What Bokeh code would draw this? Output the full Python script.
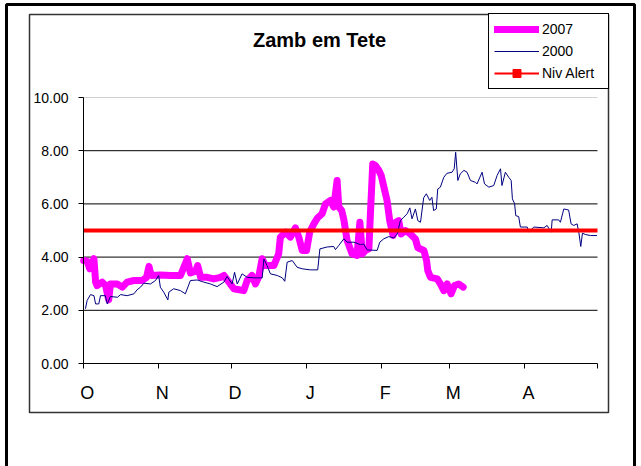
import numpy as np
from bokeh.plotting import figure
from bokeh.models import (Range1d, FixedTicker, Legend, LegendItem, Label,
                          BoxAnnotation, PrintfTickFormatter)
from bokeh.embed import file_html
from bokeh.resources import INLINE

# ---------------- data ----------------
TITLE = "Zamb em Tete"
month_labels = ["O", "N", "D", "J", "F", "M", "A"]
month_start_days = [0, 31, 61, 92, 123, 151, 182, 212]   # days since 1 Oct
y_ticks = [0, 2, 4, 6, 8, 10]
alert_level = 5.0
alert_days = [0, 212]

day_2007 = [0.1, 1.5, 2.6, 4.3, 5.0, 5.6, 7.7, 9.1, 10.4, 11.1,
            13.9, 16.0, 18.0, 20.8, 24.2, 26.0, 27.0, 27.9, 31.7, 35.9,
            40.0, 42.8, 44.1, 46.2, 47.1, 48.3, 51.0, 53.7, 56.5, 57.9,
            60.0, 62.0, 66.1, 67.5, 69.5, 70.9, 72.3, 73.7, 75.0, 78.5,
            80.5, 81.2, 83.3, 85.3, 87.4, 88.8, 90.2, 92.0, 93.3, 95.0,
            96.6, 98.4, 99.8, 101.9, 103.2, 104.6, 105.3, 106.5, 107.4, 108.7,
            110.8, 112.8, 114.0, 115.0, 116.3, 117.7, 118.4, 119.3, 120.4, 121.8,
            122.8, 123.9, 125.2, 126.3, 127.7, 128.7, 130.0, 131.0, 132.8, 134.8,
            136.9, 137.9, 140.4, 141.5, 142.0, 143.1, 145.9, 147.2, 148.6, 150.0,
            151.6, 153.0, 154.8, 156.6]
val_2007 = [3.87, 3.85, 3.56, 3.94, 3.06, 2.93, 3.06, 2.93, 2.39, 2.99,
            2.99, 2.87, 3.06, 3.12, 3.12, 3.24, 3.65, 3.31, 3.33, 3.31,
            3.31, 3.94, 3.40, 3.47, 3.68, 3.24, 3.24, 3.18, 3.24, 3.31,
            3.06, 2.81, 2.74, 3.12, 3.31, 2.99, 3.27, 3.94, 3.68, 3.68,
            4.12, 4.75, 4.94, 4.75, 5.10, 4.75, 4.25, 4.25, 4.94, 5.25,
            5.48, 5.63, 6.00, 6.13, 5.88, 6.88, 5.88, 5.75, 5.40, 4.63,
            4.12, 4.06, 5.31, 4.12, 4.25, 4.31, 5.75, 7.50, 7.44, 7.26,
            7.07, 6.63, 6.13, 5.37, 4.81, 5.31, 5.37, 4.87, 5.00, 4.87,
            4.68, 4.35, 4.25, 3.87, 3.49, 3.24, 3.18, 2.99, 2.74, 2.99,
            2.62, 2.93, 2.99, 2.87]

day_2000 = [0.8, 1.5, 2.9, 4.3, 5.0, 6.3, 7.0, 9.0, 9.8, 11.1,
            14.0, 15.3, 18.0, 20.8, 22.1, 23.5, 24.9, 27.6, 29.7, 31.0,
            31.7, 33.1, 34.8, 35.2, 37.2, 40.0, 42.0, 44.1, 46.9, 49.6,
            52.4, 55.1, 57.9, 59.2, 61.3, 62.3, 63.4, 65.4, 67.5, 70.2,
            73.7, 74.4, 75.7, 77.1, 79.9, 82.0, 83.0, 84.0, 86.1, 88.1,
            90.2, 93.6, 96.6, 97.5, 100.5, 103.2, 103.9, 105.3, 107.4, 108.7,
            111.5, 114.2, 115.6, 117.0, 121.1, 122.2, 123.9, 125.9, 128.0, 129.4,
            130.7, 132.1, 133.5, 134.6, 135.5, 136.9, 137.9, 139.0, 140.3, 141.4,
            142.8, 143.7, 144.4, 145.5, 146.1, 147.2, 148.6, 149.9, 152.0, 152.9,
            153.5, 154.4, 155.4, 156.9, 158.2, 159.6, 161.7, 162.3, 164.4, 165.4,
            167.2, 169.2, 170.6, 172.0, 172.6, 174.0, 175.4, 176.4, 176.9, 177.8,
            178.3, 179.5, 180.2, 183.0, 183.7, 185.7, 189.9, 191.2, 192.9, 193.3,
            196.0, 196.7, 198.1, 200.1, 201.1, 202.2, 203.6, 204.4, 205.1, 205.8,
            207.0, 209.1, 211.8]
val_2000 = [2.06, 2.37, 2.59, 2.55, 2.24, 2.24, 2.55, 2.55, 2.24, 2.52,
            2.49, 2.59, 2.55, 2.62, 2.77, 2.87, 3.02, 2.99, 3.12, 3.31,
            2.87, 2.68, 2.39, 2.68, 2.81, 2.74, 2.62, 3.12, 3.14, 3.06,
            2.99, 2.89, 3.06, 3.27, 2.99, 3.43, 2.99, 3.37, 3.24, 3.22,
            3.22, 3.93, 3.68, 3.37, 3.31, 3.22, 3.09, 3.81, 3.87, 3.62,
            3.56, 3.52, 3.52, 4.31, 4.38, 4.40, 4.28, 4.44, 4.69, 4.56,
            4.56, 4.47, 4.49, 4.27, 4.25, 4.56, 4.69, 4.77, 4.72, 4.87,
            5.37, 5.50, 5.63, 5.85, 5.44, 5.81, 5.37, 5.31, 6.23, 6.38,
            6.13, 6.25, 5.75, 5.81, 6.56, 6.63, 7.00, 7.15, 7.19, 7.32,
            7.94, 6.88, 7.13, 7.26, 7.19, 6.88, 6.81, 6.75, 7.19, 6.75,
            6.63, 6.69, 7.07, 7.32, 6.69, 7.19, 7.00, 6.88, 6.19, 6.01,
            5.56, 5.52, 5.13, 5.13, 4.94, 5.13, 5.10, 5.19, 4.94, 5.40,
            5.40, 5.31, 5.81, 5.77, 5.25, 5.19, 5.25, 4.87, 4.40, 4.90,
            4.85, 4.81, 4.81]

# ---------------- layout (pixels) ----------------
FONT = "Liberation Sans"
W, H = 641, 466
AX_LEFT, AX_RIGHT = 83, 597      # x pixel of first / last month tick
AX_TOP, AX_BOTTOM = 97, 363      # y pixel of top / bottom y tick

x0, x1 = month_start_days[0], month_start_days[-1]
y0, y1 = y_ticks[0], y_ticks[-1]
kx = (AX_RIGHT - AX_LEFT) / (x1 - x0)
ky = (AX_BOTTOM - AX_TOP) / (y1 - y0)

# the frame covers the whole canvas so that legend/title/borders are not clipped
p = figure(width=W, height=H, output_backend="svg", toolbar_location=None,
           x_range=Range1d(x0 - AX_LEFT / kx, x1 + (W - AX_RIGHT) / kx),
           y_range=Range1d(y0 - (H - AX_BOTTOM) / ky, y1 + AX_TOP / ky),
           min_border=0, min_border_left=0, min_border_right=0,
           min_border_top=0, min_border_bottom=0)
p.title.visible = False
p.background_fill_color = "white"
p.border_fill_color = "white"
p.outline_line_color = None

# x axis: month starts as (minor) ticks, labels slightly right of each tick
label_pos = [d + 1.5 for d in month_start_days[:-1]]
xa = p.xaxis[0]
xa.fixed_location = y0
xa.bounds = (x0, x1)
xa.ticker = FixedTicker(ticks=label_pos, minor_ticks=month_start_days)
xa.major_label_overrides = {pos: lab for pos, lab in zip(label_pos, month_labels)}
xa.major_tick_out = 0
xa.major_tick_in = 0
xa.minor_tick_out = 5
xa.minor_tick_in = 0
xa.minor_tick_line_color = "black"
xa.axis_line_color = "black"
xa.major_label_text_font = FONT
xa.major_label_text_font_size = "18px"
xa.major_label_text_color = "black"
xa.major_label_standoff = 14

# y axis
ya = p.yaxis[0]
ya.fixed_location = x0
ya.bounds = (y0, y1)
ya.ticker = FixedTicker(ticks=y_ticks)
ya.formatter = PrintfTickFormatter(format="%.2f")
ya.major_tick_out = 5
ya.major_tick_in = 0
ya.minor_tick_out = 0
ya.minor_tick_in = 0
ya.axis_line_color = "black"
ya.major_tick_line_color = "black"
ya.major_label_text_font = FONT
ya.major_label_text_font_size = "14px"
ya.major_label_text_color = "black"
ya.major_label_standoff = 10

# horizontal grid lines only across the plot area
p.xgrid.visible = False
p.ygrid.visible = False
grid_vals = y_ticks[1:-1]
p.segment(x0=[x0] * len(grid_vals), x1=[x1] * len(grid_vals),
          y0=grid_vals, y1=grid_vals, line_color="black", line_width=1)
p.segment(x0=[x0], x1=[x1], y0=[y1], y1=[y1], line_color="#d0d0d0", line_width=1)

# series
r07 = p.line(day_2007, val_2007, line_color="#FF00FF", line_width=7,
             line_join="round", line_cap="round")
r00 = p.line(day_2000, val_2000, line_color="#000080", line_width=1)
p.line(alert_days, [alert_level] * len(alert_days), line_color="#FF0000", line_width=4)

# legend proxies for the alert series (line + square marker), nothing plotted
nan = np.array([np.nan])
leg_line = p.line(nan, nan, line_color="#FF0000", line_width=2)
leg_sq = p.scatter(nan, nan, marker="square", size=4,
                   fill_color="#FF0000", line_color="#FF0000")

LEG_LEFT, LEG_TOP, LEG_H = 488, 15, 74
legend = Legend(items=[LegendItem(label="2007", renderers=[r07]),
                       LegendItem(label="2000", renderers=[r00]),
                       LegendItem(label="Niv Alert", renderers=[leg_line, leg_sq])],
                location=(LEG_LEFT, H - LEG_TOP - LEG_H),
                label_text_font=FONT, label_text_font_size="14px",
                label_text_color="black",
                glyph_width=45, glyph_height=20, label_height=20, label_width=61,
                label_standoff=3, padding=5, spacing=2, margin=0,
                border_line_color="black", border_line_width=1, border_line_alpha=1,
                background_fill_color="white", background_fill_alpha=1)
p.add_layout(legend)

# title
p.add_layout(Label(x=319, y=39, x_units="canvas", y_units="canvas",
                   text=TITLE, text_font=FONT, text_font_style="bold",
                   text_font_size="20px", text_color="black",
                   text_align="center", text_baseline="middle"))

# chart-area border and outer frame
p.add_layout(BoxAnnotation(left=29, right=608, top=14, bottom=412,
                           left_units="canvas", right_units="canvas",
                           top_units="canvas", bottom_units="canvas",
                           fill_color=None, fill_alpha=0,
                           line_color="#333333", line_alpha=1, line_width=1.5,
                           level="overlay"))
p.add_layout(BoxAnnotation(left=6, right=634, top=4, bottom=490,
                           left_units="canvas", right_units="canvas",
                           top_units="canvas", bottom_units="canvas",
                           fill_color=None, fill_alpha=0,
                           line_color="black", line_alpha=1, line_width=3,
                           level="overlay"))

open("out.html", "w").write(file_html(p, INLINE))
